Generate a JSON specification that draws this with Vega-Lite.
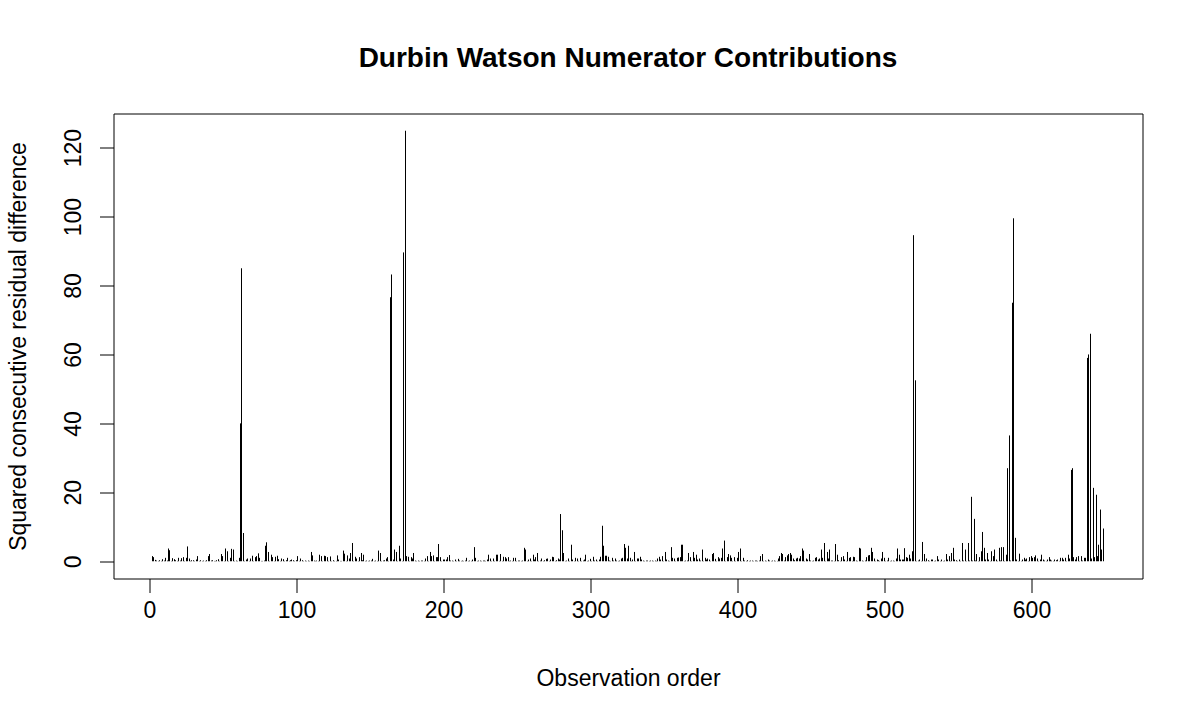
{
"$schema": "https://vega.github.io/schema/vega-lite/v6.json",
"width": 1029, "height": 465,
"autosize": {"type": "none"},
"padding": {"left": 113.5, "top": 113.5, "right": 57.5, "bottom": 141.5},
"background": "white",
"config": {"view": {"stroke": "black", "strokeWidth": 1}, "font": "Liberation Sans"},
"title": {"text": "Durbin Watson Numerator Contributions", "font": "Liberation Sans", "fontSize": 28, "fontWeight": "bold", "color": "black", "anchor": "middle", "baseline": "alphabetic", "offset": 19},
"data": {"values": [
{"i":2,"v":1.5},{"i":3,"v":1.2},{"i":4,"v":0.4},{"i":5,"v":0.2},{"i":6,"v":0.1},{"i":7,"v":0.3},{"i":8,"v":0.1},{"i":9,"v":0.6},{"i":10,"v":0.2},
{"i":11,"v":1.0},{"i":12,"v":0.2},{"i":13,"v":3.7},{"i":14,"v":3.2},{"i":15,"v":0.1},{"i":16,"v":0.9},{"i":17,"v":0.6},{"i":18,"v":0.3},{"i":19,"v":0.1},{"i":20,"v":1.0},
{"i":21,"v":0.2},{"i":22,"v":0.9},{"i":23,"v":1.2},{"i":24,"v":0.1},{"i":25,"v":1.0},{"i":26,"v":4.3},{"i":27,"v":0.8},{"i":28,"v":0.1},{"i":29,"v":0.3},{"i":30,"v":0.3},
{"i":31,"v":0.1},{"i":32,"v":0.5},{"i":33,"v":1.5},{"i":34,"v":0.1},{"i":35,"v":0.3},{"i":36,"v":0.1},{"i":37,"v":0.2},{"i":38,"v":0.1},{"i":39,"v":0.3},{"i":40,"v":1.5},
{"i":41,"v":2.1},{"i":42,"v":0.2},{"i":43,"v":0.3},{"i":44,"v":0.1},{"i":45,"v":0.1},{"i":46,"v":0.3},{"i":47,"v":0.6},{"i":48,"v":0.1},{"i":49,"v":2.1},{"i":50,"v":1.5},
{"i":51,"v":0.1},{"i":52,"v":3.7},{"i":53,"v":2.9},{"i":54,"v":0.1},{"i":55,"v":1.0},{"i":56,"v":3.6},{"i":57,"v":3.4},{"i":58,"v":0.1},{"i":59,"v":0.2},{"i":60,"v":0.1},
{"i":61,"v":1.0},{"i":62,"v":40},{"i":63,"v":85},{"i":64,"v":8.2},{"i":65,"v":0.1},{"i":66,"v":0.5},{"i":67,"v":0.8},{"i":68,"v":0.1},{"i":69,"v":0.8},{"i":70,"v":1.6},
{"i":71,"v":0.1},{"i":72,"v":1.2},{"i":73,"v":1.5},{"i":74,"v":2.3},{"i":75,"v":1.0},{"i":76,"v":0.1},{"i":77,"v":0.1},{"i":78,"v":0.2},{"i":79,"v":4.5},{"i":80,"v":5.5},
{"i":81,"v":2.7},{"i":82,"v":0.1},{"i":83,"v":1.9},{"i":84,"v":1.2},{"i":85,"v":0.1},{"i":86,"v":1.3},{"i":87,"v":1.6},{"i":88,"v":0.6},{"i":89,"v":0.1},{"i":90,"v":0.8},
{"i":91,"v":0.6},{"i":92,"v":0.1},{"i":93,"v":0.3},{"i":94,"v":1.0},{"i":95,"v":0.1},{"i":96,"v":0.3},{"i":97,"v":0.5},{"i":98,"v":0.3},{"i":99,"v":0.1},{"i":100,"v":0.3},
{"i":101,"v":1.5},{"i":102,"v":0.1},{"i":103,"v":0.8},{"i":104,"v":0.3},{"i":105,"v":0.1},{"i":106,"v":0.2},{"i":107,"v":0.1},{"i":108,"v":0.2},{"i":109,"v":0.1},{"i":110,"v":2.7},
{"i":111,"v":1.7},{"i":112,"v":0.2},{"i":113,"v":0.1},{"i":114,"v":0.2},{"i":115,"v":0.1},{"i":116,"v":1.9},{"i":117,"v":1.5},{"i":118,"v":0.1},{"i":119,"v":1.6},{"i":120,"v":1.5},
{"i":121,"v":1.2},{"i":122,"v":0.1},{"i":123,"v":1.4},{"i":124,"v":0.1},{"i":125,"v":0.3},{"i":126,"v":0.1},{"i":127,"v":0.1},{"i":128,"v":1.7},{"i":129,"v":0.5},{"i":130,"v":0.1},
{"i":131,"v":0.1},{"i":132,"v":3.1},{"i":133,"v":2.2},{"i":134,"v":0.1},{"i":135,"v":1.7},{"i":136,"v":0.8},{"i":137,"v":2.4},{"i":138,"v":5.3},{"i":139,"v":0.1},{"i":140,"v":1.3},
{"i":141,"v":0.8},{"i":142,"v":0.1},{"i":143,"v":1.2},{"i":144,"v":2.4},{"i":145,"v":0.3},{"i":146,"v":1.9},{"i":147,"v":0.1},{"i":148,"v":0.2},{"i":149,"v":0.1},{"i":150,"v":0.2},
{"i":151,"v":0.2},{"i":152,"v":0.7},{"i":153,"v":0.1},{"i":154,"v":0.2},{"i":155,"v":0.1},{"i":156,"v":3.1},{"i":157,"v":2.4},{"i":158,"v":0.1},{"i":159,"v":0.2},{"i":160,"v":0.3},
{"i":161,"v":0.8},{"i":162,"v":1.2},{"i":163,"v":0.1},{"i":164,"v":76.6},{"i":165,"v":83.2},{"i":166,"v":0.5},{"i":167,"v":3.4},{"i":168,"v":2.7},{"i":169,"v":0.1},{"i":170,"v":4.5},
{"i":171,"v":0.8},{"i":172,"v":0.1},{"i":173,"v":89.6},{"i":174,"v":124.9},{"i":175,"v":1.5},{"i":176,"v":1.3},{"i":177,"v":0.1},{"i":178,"v":1.2},{"i":179,"v":0.8},{"i":180,"v":2.4},
{"i":181,"v":0.2},{"i":182,"v":0.1},{"i":183,"v":0.2},{"i":184,"v":0.1},{"i":185,"v":0.2},{"i":186,"v":0.2},{"i":187,"v":0.1},{"i":188,"v":0.8},{"i":189,"v":1.5},{"i":190,"v":0.1},
{"i":191,"v":2.7},{"i":192,"v":1.5},{"i":193,"v":1.7},{"i":194,"v":0.1},{"i":195,"v":1.2},{"i":196,"v":1.2},{"i":197,"v":5.0},{"i":198,"v":1.2},{"i":199,"v":0.1},{"i":200,"v":0.5},
{"i":201,"v":0.5},{"i":202,"v":0.5},{"i":203,"v":1.2},{"i":204,"v":1.8},{"i":205,"v":0.2},{"i":206,"v":0.2},{"i":207,"v":0.1},{"i":208,"v":0.5},{"i":209,"v":0.1},{"i":210,"v":0.7},
{"i":211,"v":0.2},{"i":212,"v":0.1},{"i":213,"v":0.2},{"i":214,"v":0.1},{"i":215,"v":0.2},{"i":216,"v":1.0},{"i":217,"v":0.1},{"i":218,"v":0.2},{"i":219,"v":0.1},{"i":220,"v":0.5},
{"i":221,"v":4.1},{"i":222,"v":1.0},{"i":223,"v":0.1},{"i":224,"v":0.2},{"i":225,"v":0.2},{"i":226,"v":0.1},{"i":227,"v":0.2},{"i":228,"v":0.2},{"i":229,"v":0.1},{"i":230,"v":0.5},
{"i":231,"v":1.9},{"i":232,"v":0.8},{"i":233,"v":0.1},{"i":234,"v":0.8},{"i":235,"v":0.1},{"i":236,"v":1.9},{"i":237,"v":1.9},{"i":238,"v":0.1},{"i":239,"v":2.1},{"i":240,"v":0.1},
{"i":241,"v":1.3},{"i":242,"v":1.2},{"i":243,"v":0.8},{"i":244,"v":1.2},{"i":245,"v":0.1},{"i":246,"v":0.2},{"i":247,"v":0.1},{"i":248,"v":1.0},{"i":249,"v":1.0},{"i":250,"v":0.1},
{"i":251,"v":0.2},{"i":252,"v":0.2},{"i":253,"v":0.1},{"i":254,"v":0.2},{"i":255,"v":3.9},{"i":256,"v":3.4},{"i":257,"v":0.1},{"i":258,"v":0.5},{"i":259,"v":0.8},{"i":260,"v":0.1},
{"i":261,"v":1.9},{"i":262,"v":0.5},{"i":263,"v":1.2},{"i":264,"v":2.4},{"i":265,"v":0.1},{"i":266,"v":0.2},{"i":267,"v":0.8},{"i":268,"v":0.1},{"i":269,"v":0.3},{"i":270,"v":0.7},
{"i":271,"v":0.8},{"i":272,"v":0.1},{"i":273,"v":0.5},{"i":274,"v":1.3},{"i":275,"v":1.2},{"i":276,"v":0.1},{"i":277,"v":0.3},{"i":278,"v":0.8},{"i":279,"v":0.5},{"i":280,"v":13.7},
{"i":281,"v":9.0},{"i":282,"v":2.4},{"i":283,"v":0.1},{"i":284,"v":0.2},{"i":285,"v":0.8},{"i":286,"v":0.1},{"i":287,"v":4.8},{"i":288,"v":0.5},{"i":289,"v":0.1},{"i":290,"v":1.0},
{"i":291,"v":0.8},{"i":292,"v":0.1},{"i":293,"v":1.0},{"i":294,"v":0.1},{"i":295,"v":0.2},{"i":296,"v":0.5},{"i":297,"v":1.9},{"i":298,"v":0.1},{"i":299,"v":0.2},{"i":300,"v":0.7},
{"i":301,"v":0.1},{"i":302,"v":1.3},{"i":303,"v":0.2},{"i":304,"v":0.5},{"i":305,"v":0.1},{"i":306,"v":0.5},{"i":307,"v":1.3},{"i":308,"v":10.3},{"i":309,"v":4.5},{"i":310,"v":1.6},
{"i":311,"v":1.6},{"i":312,"v":1.3},{"i":313,"v":0.2},{"i":314,"v":0.1},{"i":315,"v":1.0},{"i":316,"v":0.2},{"i":317,"v":0.8},{"i":318,"v":0.2},{"i":319,"v":0.1},{"i":320,"v":0.2},
{"i":321,"v":0.8},{"i":322,"v":1.0},{"i":323,"v":5.0},{"i":324,"v":3.9},{"i":325,"v":0.8},{"i":326,"v":4.5},{"i":327,"v":1.0},{"i":328,"v":0.1},{"i":329,"v":0.5},{"i":330,"v":2.7},
{"i":331,"v":0.1},{"i":332,"v":0.8},{"i":333,"v":0.8},{"i":334,"v":1.3},{"i":335,"v":0.5},{"i":336,"v":0.2},{"i":337,"v":0.1},{"i":338,"v":0.2},{"i":339,"v":0.2},{"i":340,"v":0.1},
{"i":341,"v":0.2},{"i":342,"v":0.2},{"i":343,"v":0.1},{"i":344,"v":0.2},{"i":345,"v":0.1},{"i":346,"v":0.8},{"i":347,"v":1.3},{"i":348,"v":0.5},{"i":349,"v":1.5},{"i":350,"v":0.1},
{"i":351,"v":2.7},{"i":352,"v":0.5},{"i":353,"v":0.2},{"i":354,"v":0.1},{"i":355,"v":4.1},{"i":356,"v":1.0},{"i":357,"v":0.8},{"i":358,"v":0.1},{"i":359,"v":1.0},{"i":360,"v":1.1},
{"i":361,"v":1.2},{"i":362,"v":4.8},{"i":363,"v":4.8},{"i":364,"v":0.1},{"i":365,"v":0.2},{"i":366,"v":0.2},{"i":367,"v":2.4},{"i":368,"v":1.2},{"i":369,"v":0.1},{"i":370,"v":2.7},
{"i":371,"v":1.0},{"i":372,"v":1.9},{"i":373,"v":0.5},{"i":374,"v":0.8},{"i":375,"v":0.2},{"i":376,"v":3.4},{"i":377,"v":0.1},{"i":378,"v":1.0},{"i":379,"v":0.5},{"i":380,"v":0.8},
{"i":381,"v":0.5},{"i":382,"v":0.1},{"i":383,"v":2.1},{"i":384,"v":2.4},{"i":385,"v":0.7},{"i":386,"v":0.1},{"i":387,"v":1.2},{"i":388,"v":0.8},{"i":389,"v":1.0},{"i":390,"v":3.7},
{"i":391,"v":6.0},{"i":392,"v":0.1},{"i":393,"v":1.2},{"i":394,"v":2.1},{"i":395,"v":1.7},{"i":396,"v":1.0},{"i":397,"v":0.1},{"i":398,"v":1.2},{"i":399,"v":0.1},{"i":400,"v":1.0},
{"i":401,"v":2.7},{"i":402,"v":3.7},{"i":403,"v":0.1},{"i":404,"v":1.0},{"i":405,"v":0.2},{"i":406,"v":0.1},{"i":407,"v":0.3},{"i":408,"v":0.1},{"i":409,"v":0.2},{"i":410,"v":0.2},
{"i":411,"v":0.1},{"i":412,"v":0.2},{"i":413,"v":0.2},{"i":414,"v":0.1},{"i":415,"v":0.2},{"i":416,"v":1.5},{"i":417,"v":2.1},{"i":418,"v":0.1},{"i":419,"v":0.2},{"i":420,"v":0.1},
{"i":421,"v":0.5},{"i":422,"v":0.2},{"i":423,"v":0.1},{"i":424,"v":0.2},{"i":425,"v":0.2},{"i":426,"v":0.1},{"i":427,"v":0.1},{"i":428,"v":0.8},{"i":429,"v":1.5},{"i":430,"v":2.4},
{"i":431,"v":2.1},{"i":432,"v":0.2},{"i":433,"v":1.2},{"i":434,"v":1.7},{"i":435,"v":2.1},{"i":436,"v":2.4},{"i":437,"v":1.9},{"i":438,"v":0.8},{"i":439,"v":0.3},{"i":440,"v":0.8},
{"i":441,"v":1.0},{"i":442,"v":0.8},{"i":443,"v":1.5},{"i":444,"v":3.7},{"i":445,"v":3.1},{"i":446,"v":0.1},{"i":447,"v":0.8},{"i":448,"v":0.5},{"i":449,"v":2.1},{"i":450,"v":0.2},
{"i":451,"v":0.1},{"i":452,"v":0.2},{"i":453,"v":1.0},{"i":454,"v":1.2},{"i":455,"v":0.5},{"i":456,"v":0.8},{"i":457,"v":3.4},{"i":458,"v":1.0},{"i":459,"v":5.3},{"i":460,"v":0.1},
{"i":461,"v":2.7},{"i":462,"v":0.8},{"i":463,"v":3.4},{"i":464,"v":0.2},{"i":465,"v":0.2},{"i":466,"v":0.1},{"i":467,"v":5.0},{"i":468,"v":1.9},{"i":469,"v":0.3},{"i":470,"v":0.1},
{"i":471,"v":1.2},{"i":472,"v":1.5},{"i":473,"v":0.5},{"i":474,"v":0.1},{"i":475,"v":2.7},{"i":476,"v":1.0},{"i":477,"v":1.2},{"i":478,"v":0.1},{"i":479,"v":1.3},{"i":480,"v":1.2},
{"i":481,"v":0.2},{"i":482,"v":0.1},{"i":483,"v":3.9},{"i":484,"v":3.7},{"i":485,"v":0.2},{"i":486,"v":0.1},{"i":487,"v":0.2},{"i":488,"v":1.2},{"i":489,"v":1.7},{"i":490,"v":1.8},
{"i":491,"v":3.9},{"i":492,"v":2.7},{"i":493,"v":0.8},{"i":494,"v":0.1},{"i":495,"v":0.5},{"i":496,"v":0.3},{"i":497,"v":0.1},{"i":498,"v":0.8},{"i":499,"v":2.7},{"i":500,"v":1.0},
{"i":501,"v":0.1},{"i":502,"v":0.2},{"i":503,"v":1.0},{"i":504,"v":0.1},{"i":505,"v":0.2},{"i":506,"v":0.2},{"i":507,"v":0.1},{"i":508,"v":0.8},{"i":509,"v":3.7},{"i":510,"v":1.9},
{"i":511,"v":0.5},{"i":512,"v":0.5},{"i":513,"v":0.5},{"i":514,"v":3.8},{"i":515,"v":1.2},{"i":516,"v":1.0},{"i":517,"v":1.9},{"i":518,"v":0.8},{"i":519,"v":2.9},{"i":520,"v":94.6},
{"i":521,"v":52.5},{"i":522,"v":0.1},{"i":523,"v":0.2},{"i":524,"v":0.5},{"i":525,"v":0.1},{"i":526,"v":5.6},{"i":527,"v":2.1},{"i":528,"v":0.1},{"i":529,"v":0.8},{"i":530,"v":0.3},
{"i":531,"v":0.1},{"i":532,"v":0.5},{"i":533,"v":0.5},{"i":534,"v":0.1},{"i":535,"v":0.2},{"i":536,"v":1.5},{"i":537,"v":0.5},{"i":538,"v":0.1},{"i":539,"v":0.5},{"i":540,"v":0.1},
{"i":541,"v":0.2},{"i":542,"v":2.1},{"i":543,"v":0.5},{"i":544,"v":1.5},{"i":545,"v":0.1},{"i":546,"v":2.4},{"i":547,"v":3.9},{"i":548,"v":0.5},{"i":549,"v":0.3},{"i":550,"v":0.1},
{"i":551,"v":0.5},{"i":552,"v":0.1},{"i":553,"v":5.3},{"i":554,"v":0.2},{"i":555,"v":3.4},{"i":556,"v":0.1},{"i":557,"v":5.3},{"i":558,"v":0.2},{"i":559,"v":18.7},{"i":560,"v":0.2},
{"i":561,"v":12.3},{"i":562,"v":0.2},{"i":563,"v":2.1},{"i":564,"v":0.1},{"i":565,"v":1.2},{"i":566,"v":2.9},{"i":567,"v":8.5},{"i":568,"v":3.9},{"i":569,"v":0.5},{"i":570,"v":2.4},
{"i":571,"v":0.5},{"i":572,"v":0.1},{"i":573,"v":2.9},{"i":574,"v":1.5},{"i":575,"v":3.4},{"i":576,"v":0.5},{"i":577,"v":0.1},{"i":578,"v":3.9},{"i":579,"v":0.2},{"i":580,"v":4.1},
{"i":581,"v":4.1},{"i":582,"v":0.1},{"i":583,"v":1.9},{"i":584,"v":27},{"i":585,"v":36.5},{"i":586,"v":0.2},{"i":587,"v":75},{"i":588,"v":99.5},{"i":589,"v":6.8},{"i":590,"v":0.5},
{"i":591,"v":0.1},{"i":592,"v":2.2},{"i":593,"v":0.1},{"i":594,"v":0.5},{"i":595,"v":1.0},{"i":596,"v":0.5},{"i":597,"v":0.8},{"i":598,"v":0.1},{"i":599,"v":1.2},{"i":600,"v":1.5},
{"i":601,"v":1.0},{"i":602,"v":1.2},{"i":603,"v":1.7},{"i":604,"v":0.8},{"i":605,"v":0.1},{"i":606,"v":0.5},{"i":607,"v":1.9},{"i":608,"v":0.5},{"i":609,"v":0.2},{"i":610,"v":0.1},
{"i":611,"v":0.5},{"i":612,"v":1.2},{"i":613,"v":0.5},{"i":614,"v":0.2},{"i":615,"v":0.1},{"i":616,"v":0.5},{"i":617,"v":0.3},{"i":618,"v":0.5},{"i":619,"v":0.1},{"i":620,"v":1.0},
{"i":621,"v":1.0},{"i":622,"v":0.5},{"i":623,"v":1.0},{"i":624,"v":0.1},{"i":625,"v":1.9},{"i":626,"v":0.8},{"i":627,"v":26.5},{"i":628,"v":27},{"i":629,"v":1.2},{"i":630,"v":0.5},
{"i":631,"v":1.2},{"i":632,"v":1.5},{"i":633,"v":0.1},{"i":634,"v":1.5},{"i":635,"v":0.2},{"i":636,"v":1.0},{"i":637,"v":1.0},{"i":638,"v":59},{"i":639,"v":60},{"i":640,"v":66},
{"i":641,"v":0.8},{"i":642,"v":21.3},{"i":643,"v":1.2},{"i":644,"v":19.3},{"i":645,"v":1.5},{"i":646,"v":4.8},{"i":647,"v":15.0},{"i":648,"v":3.4},{"i":649,"v":9.5}
]},
"mark": {"type": "rule", "color": "black", "strokeWidth": 1},
"encoding": {
  "x": {"field": "i", "type": "quantitative",
    "scale": {"domain": [-24.4, 675.6], "nice": false, "zero": false, "round": true},
    "axis": {"title": "Observation order", "values": [0, 100, 200, 300, 400, 500, 600], "domain": false, "grid": false,
      "tickSize": 14, "tickColor": "black", "tickWidth": 1, "labelFontSize": 23, "labelColor": "black", "labelFont": "Liberation Sans",
      "labelPadding": 7, "labelFlush": false, "labelOverlap": false,
      "titleFontSize": 23, "titleFontWeight": "normal", "titleColor": "black", "titleFont": "Liberation Sans",
      "titleX": 514.5, "titleY": 107, "titleBaseline": "alphabetic", "titleAlign": "center"}},
  "y": {"field": "v", "type": "quantitative",
    "scale": {"domain": [-5, 129.9], "nice": false, "zero": false},
    "axis": {"title": "Squared consecutive residual difference", "values": [0, 20, 40, 60, 80, 100, 120], "domain": false, "grid": false,
      "tickSize": 14, "tickColor": "black", "tickWidth": 1, "labelFontSize": 23, "labelColor": "black", "labelFont": "Liberation Sans",
      "labelAngle": -90, "labelAlign": "center", "labelBaseline": "alphabetic", "labelPadding": 19, "labelFlush": false, "labelOverlap": false,
      "titleFontSize": 23, "titleFontWeight": "normal", "titleColor": "black", "titleFont": "Liberation Sans",
      "titleAngle": -90, "titleX": -95.5, "titleY": 232.5, "titleBaseline": "middle", "titleAlign": "center"}},
  "y2": {"datum": 0}
}
}
